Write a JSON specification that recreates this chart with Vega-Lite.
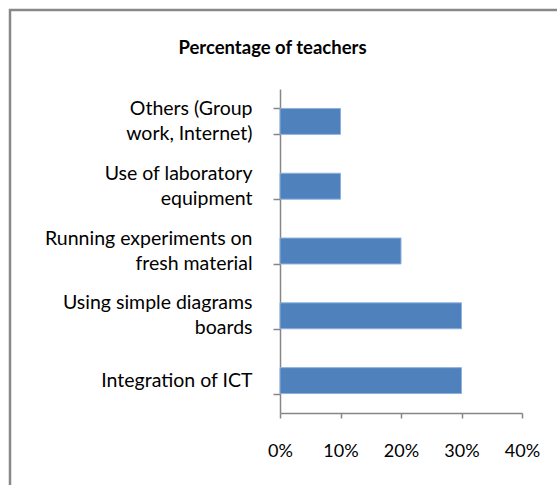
{
  "$schema": "https://vega.github.io/schema/vega-lite/v6.json",
  "autosize": "none",
  "width": 549,
  "height": 477,
  "padding": {"left": 10, "top": 10, "right": -2, "bottom": -2},
  "background": "white",
  "config": {
    "view": {"stroke": "#888888", "strokeWidth": 2.5},
    "font": "Lato"
  },
  "title": {
    "text": "Percentage of teachers",
    "font": "Lato",
    "fontSize": 18.5,
    "fontWeight": "bold",
    "color": "#000000",
    "anchor": "middle",
    "offset": -26,
    "baseline": "middle",
    "dy": 40,
    "dx": -12
  },
  "data": {
    "values": [
      {"method": "Others (Group work, Internet)", "share": 0.10},
      {"method": "Use of laboratory equipment", "share": 0.10},
      {"method": "Running experiments on fresh material", "share": 0.20},
      {"method": "Using simple diagrams boards", "share": 0.30},
      {"method": "Integration of ICT", "share": 0.30}
    ]
  },
  "mark": {"type": "bar", "color": "#4F81BD", "stroke": "#8DB0DC", "strokeWidth": 1},
  "encoding": {
    "y": {
      "field": "method",
      "type": "nominal",
      "sort": ["Others (Group work, Internet)", "Use of laboratory equipment", "Running experiments on fresh material", "Using simple diagrams boards", "Integration of ICT"],
      "scale": {"range": [79, 403], "paddingInner": 0.6, "paddingOuter": 0.3},
      "axis": {
        "title": null,
        "orient": "left",
        "offset": -270,
        "tickBand": "extent",
        "tickSize": 7,
        "tickWidth": 1.5,
        "tickColor": "#868686",
        "domainColor": "#868686",
        "domainWidth": 1.5,
        "labelFont": "Lato",
        "labelFontSize": 19.5,
        "labelColor": "#000000",
        "labelPadding": 21,
        "labelAlign": "right",
        "labelBaseline": "middle",
        "labelLineHeight": 25,
        "labelLimit": 400,
        "labelOffset": {"condition": {"test": "datum.value == 'Integration of ICT'", "value": 0}, "value": -13},
        "labelExpr": "datum.label == 'Others (Group work, Internet)' ? ['Others (Group', 'work, Internet)'] : datum.label == 'Use of laboratory equipment' ? ['Use of laboratory', 'equipment'] : datum.label == 'Running experiments on fresh material' ? ['Running experiments on', 'fresh material'] : datum.label == 'Using simple diagrams boards' ? ['Using simple diagrams', 'boards'] : datum.label",
        "grid": false
      }
    },
    "x": {
      "field": "share",
      "type": "quantitative",
      "scale": {"domain": [0, 0.4], "range": [270, 512], "nice": false},
      "axis": {
        "title": null,
        "orient": "bottom",
        "offset": -74,
        "values": [0, 0.1, 0.2, 0.3, 0.4],
        "format": ".0%",
        "tickSize": 5,
        "tickWidth": 1.5,
        "tickColor": "#868686",
        "domainColor": "#868686",
        "domainWidth": 1.5,
        "labelFont": "Lato",
        "labelFontSize": 18,
        "labelColor": "#000000",
        "labelPadding": 24,
        "labelFlush": false,
        "grid": false
      }
    }
  }
}
